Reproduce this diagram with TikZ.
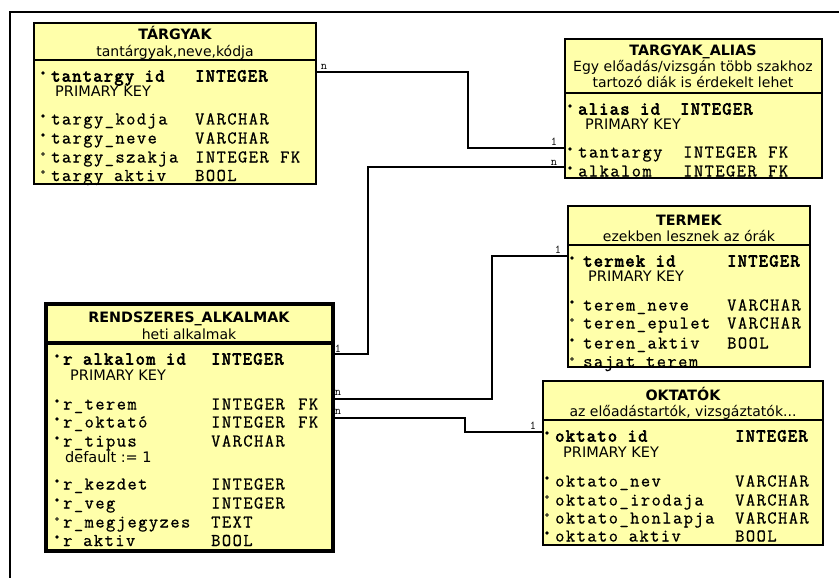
\documentclass[tikz,border=0pt]{standalone}
\usepackage{fontspec}
\setmainfont{DejaVu Sans}
\newfontfamily\monof[LetterSpace=8,FakeBold=0.7]{Latin Modern Mono}
\newfontfamily\monob[LetterSpace=7,FakeBold=3.5]{Latin Modern Mono}
\newfontfamily\monoc{Latin Modern Mono}
\definecolor{boxfill}{RGB}{255,255,170}
\tikzset{
  tbl/.style={fill=boxfill, draw=black, line width=2.5pt, anchor=north west, inner sep=0pt, outer sep=0pt, rectangle},
  bord/.style={draw=black, line width=2.5pt},
  bordthick/.style={draw=black, line width=4.5pt},
  ttl/.style={font=\fontsize{14.3}{16}\selectfont\bfseries, inner sep=0pt, anchor=base},
  subt/.style={font=\fontsize{14}{16}\selectfont, inner sep=0pt, anchor=base},
  fld/.style={font=\fontsize{18}{19}\monof, inner sep=0pt, anchor=base west},
  fldb/.style={font=\fontsize{18}{19}\monob, inner sep=0pt, anchor=base west},
  pk/.style={font=\fontsize{14.5}{16}\selectfont, inner sep=0pt, anchor=base west},
  conn/.style={draw=black, line width=2pt},
  card/.style={font=\fontsize{12}{12}\monoc, inner sep=0pt},
}
\newcommand\dotF[2]{\fill (#1,#2) circle (1.8pt);}
\newcommand\dotO[2]{\draw[line width=0.7pt] (#1,#2) circle (1.4pt);}
\begin{document}
\begin{tikzpicture}[x=1pt,y=-1pt]
\useasboundingbox (0,0) rectangle (839,578);
\draw[line width=2pt] (10,578) -- (10,12) -- (839,12);

% ---------- TARGYAK ----------
\node[tbl, minimum width=282pt, minimum height=161pt] (targyak) at (34,23) {};
\draw[bord] (targyak.west |- 0,60) -- (targyak.east |- 0,60);
\node[ttl] (targyak-t) at (175,40) {TÁRGYAK};
\node[subt] (targyak-s) at (175,57) {tantárgyak,neve,kódja};
\dotF{43}{73}\dotF{43}{116}\dotF{43}{135}\dotO{43}{154}\dotO{43}{172}
\node[fldb] (tg1n) at (51,81.5) {tantargy id};
\node[fldb] (tg1t) at (195,81.5) {INTEGER};
\node[pk] (tg1p) at (55,97) {PRIMARY KEY};
\node[fld] (tg2n) at (51,124.5) {targy\_kodja};
\node[fld] (tg2t) at (195,124.5) {VARCHAR};
\node[fld] (tg3n) at (51,143.5) {targy\_neve};
\node[fld] (tg3t) at (195,143.5) {VARCHAR};
\node[fld] (tg4n) at (51,162.5) {targy\_szakja};
\node[fld] (tg4t) at (195,162.5) {INTEGER};
\node[fld] (tg4f) at (280,162.5) {FK};
\node[fld] (tg5n) at (51,181) {targy aktiv};
\node[fld] (tg5t) at (195,181) {BOOL};
\draw[bord] (targyak.north west) rectangle (targyak.south east);

% ---------- TARGYAK_ALIAS ----------
\node[tbl, minimum width=257pt, minimum height=139pt] (alias) at (565,39) {};
\draw[bord] (alias.west |- 0,93) -- (alias.east |- 0,93);
\node[ttl] (alias-t) at (693,56) {TARGYAK\_ALIAS};
\node[subt] (alias-s1) at (693,72) {Egy előadás/vizsgán több szakhoz};
\node[subt] (alias-s2) at (693,88) {tartozó diák is érdekelt lehet};
\dotF{570}{106}\dotF{570}{149}\dotF{570}{168}
\node[fldb] (al1n) at (578,114.5) {alias id};
\node[fldb] (al1t) at (680,114.5) {INTEGER};
\node[pk] (al1p) at (585,129) {PRIMARY KEY};
\node[fld] (al2n) at (578,157.5) {tantargy};
\node[fld] (al2t) at (683,157.5) {INTEGER};
\node[fld] (al2f) at (768,157.5) {FK};
\node[fld] (al3n) at (578,176.5) {alkalom};
\node[fld] (al3t) at (683,176.5) {INTEGER};
\node[fld] (al3f) at (768,176.5) {FK};
\draw[bord] (alias.north west) rectangle (alias.south east);

% ---------- TERMEK ----------
\node[tbl, minimum width=242pt, minimum height=161pt] (termek) at (568,206) {};
\draw[bord] (termek.west |- 0,245) -- (termek.east |- 0,245);
\node[ttl] (termek-t) at (689,225) {TERMEK};
\node[subt] (termek-s) at (689,241) {ezekben lesznek az órák};
\dotF{572}{258}\dotF{572}{302}\dotO{572}{320}\dotF{572}{340}\dotO{572}{359}
\node[fldb] (te1n) at (583,266.5) {termek id};
\node[fldb] (te1t) at (727,266.5) {INTEGER};
\node[pk] (te1p) at (588,281) {PRIMARY KEY};
\node[fld] (te2n) at (583,310.5) {terem\_neve};
\node[fld] (te2t) at (727,310.5) {VARCHAR};
\node[fld] (te3n) at (583,328.5) {teren\_epulet};
\node[fld] (te3t) at (727,328.5) {VARCHAR};
\node[fld] (te4n) at (583,348.5) {teren\_aktiv};
\node[fld] (te4t) at (727,348.5) {BOOL};
\node[fld] (te5n) at (583,367) {sajat terem};
\draw[bord] (termek.north west) rectangle (termek.south east);

% ---------- RENDSZERES_ALKALMAK ----------
\node[tbl, line width=4.5pt, minimum width=287pt, minimum height=247pt] (rendsz) at (46,304) {};
\draw[bordthick] (rendsz.west |- 0,343) -- (rendsz.east |- 0,343);
\node[ttl] (rendsz-t) at (189,322) {RENDSZERES\_ALKALMAK};
\node[subt] (rendsz-s) at (189,339.5) {heti alkalmak};
\dotF{57}{356}\dotF{57}{401}\dotF{57}{419}\dotF{57}{438}\dotF{57}{481}\dotF{57}{500}\dotO{57}{519}\dotF{57}{537}
\node[fldb] (rs1n) at (63,364.5) {r alkalom id};
\node[fldb] (rs1t) at (211,364.5) {INTEGER};
\node[pk] (rs1p) at (70,380) {PRIMARY KEY};
\node[fld] (rs2n) at (63,409.5) {r\_terem};
\node[fld] (rs2t) at (211,409.5) {INTEGER};
\node[fld] (rs2f) at (298,409.5) {FK};
\node[fld] (rs3n) at (63,427.5) {r\_oktató};
\node[fld] (rs3t) at (211,427.5) {INTEGER};
\node[fld] (rs3f) at (298,427.5) {FK};
\node[fld] (rs4n) at (63,446.5) {r\_tipus};
\node[fld] (rs4t) at (211,446.5) {VARCHAR};
\node[pk] (rs4d) at (65,462) {default := 1};
\node[fld] (rs5n) at (63,489.5) {r\_kezdet};
\node[fld] (rs5t) at (211,489.5) {INTEGER};
\node[fld] (rs6n) at (63,508.5) {r\_veg};
\node[fld] (rs6t) at (211,508.5) {INTEGER};
\node[fld] (rs7n) at (63,527.5) {r\_megjegyzes};
\node[fld] (rs7t) at (211,527.5) {TEXT};
\node[fld] (rs8n) at (63,546) {r aktiv};
\node[fld] (rs8t) at (211,546) {BOOL};
\draw[bordthick] (rendsz.north west) rectangle (rendsz.south east);

% ---------- OKTATOK ----------
\node[tbl, minimum width=280pt, minimum height=164pt] (oktatok) at (543,381) {};
\draw[bord] (oktatok.west |- 0,420) -- (oktatok.east |- 0,420);
\node[ttl] (oktatok-t) at (683,400) {OKTATÓK};
\node[subt] (oktatok-s) at (683,416) {az előadástartók, vizsgáztatók...};
\dotF{547}{433}\dotF{547}{478}\dotO{547}{497}\dotO{547}{515}\dotF{547}{533}
\node[fldb] (ok1n) at (555,441.5) {oktato id};
\node[fldb] (ok1t) at (735,441.5) {INTEGER};
\node[pk] (ok1p) at (563,457) {PRIMARY KEY};
\node[fld] (ok2n) at (555,486.5) {oktato\_nev};
\node[fld] (ok2t) at (735,486.5) {VARCHAR};
\node[fld] (ok3n) at (555,505.5) {oktato\_irodaja};
\node[fld] (ok3t) at (735,505.5) {VARCHAR};
\node[fld] (ok4n) at (555,523.5) {oktato\_honlapja};
\node[fld] (ok4t) at (735,523.5) {VARCHAR};
\node[fld] (ok5n) at (555,541.5) {oktato aktiv};
\node[fld] (ok5t) at (735,541.5) {BOOL};
\draw[bord] (oktatok.north west) rectangle (oktatok.south east);

% ---------- connectors ----------
\draw[conn] (targyak.east |- 0,72) -- (468,72) -- (468,148) -- (alias.west |- 0,148);
\draw[conn] (alias.west |- 0,167) -- (368,167) -- (368,354) -- (rendsz.east |- 0,354);
\draw[conn] (termek.west |- 0,256) -- (492,256) -- (492,399) -- (rendsz.east |- 0,399);
\draw[conn] (rendsz.east |- 0,418) -- (465,418) -- (465,432) -- (oktatok.west |- 0,432);

\node[card] (c1a) at (324,67) {n};
\node[card] (c1b) at (554,142) {1};
\node[card] (c2a) at (554,163) {n};
\node[card] (c2b) at (338,349) {1};
\node[card] (c3a) at (558,250) {1};
\node[card] (c3b) at (338,393) {n};
\node[card] (c4a) at (338,412) {n};
\node[card] (c4b) at (533,426) {1};
\end{tikzpicture}
\end{document}
